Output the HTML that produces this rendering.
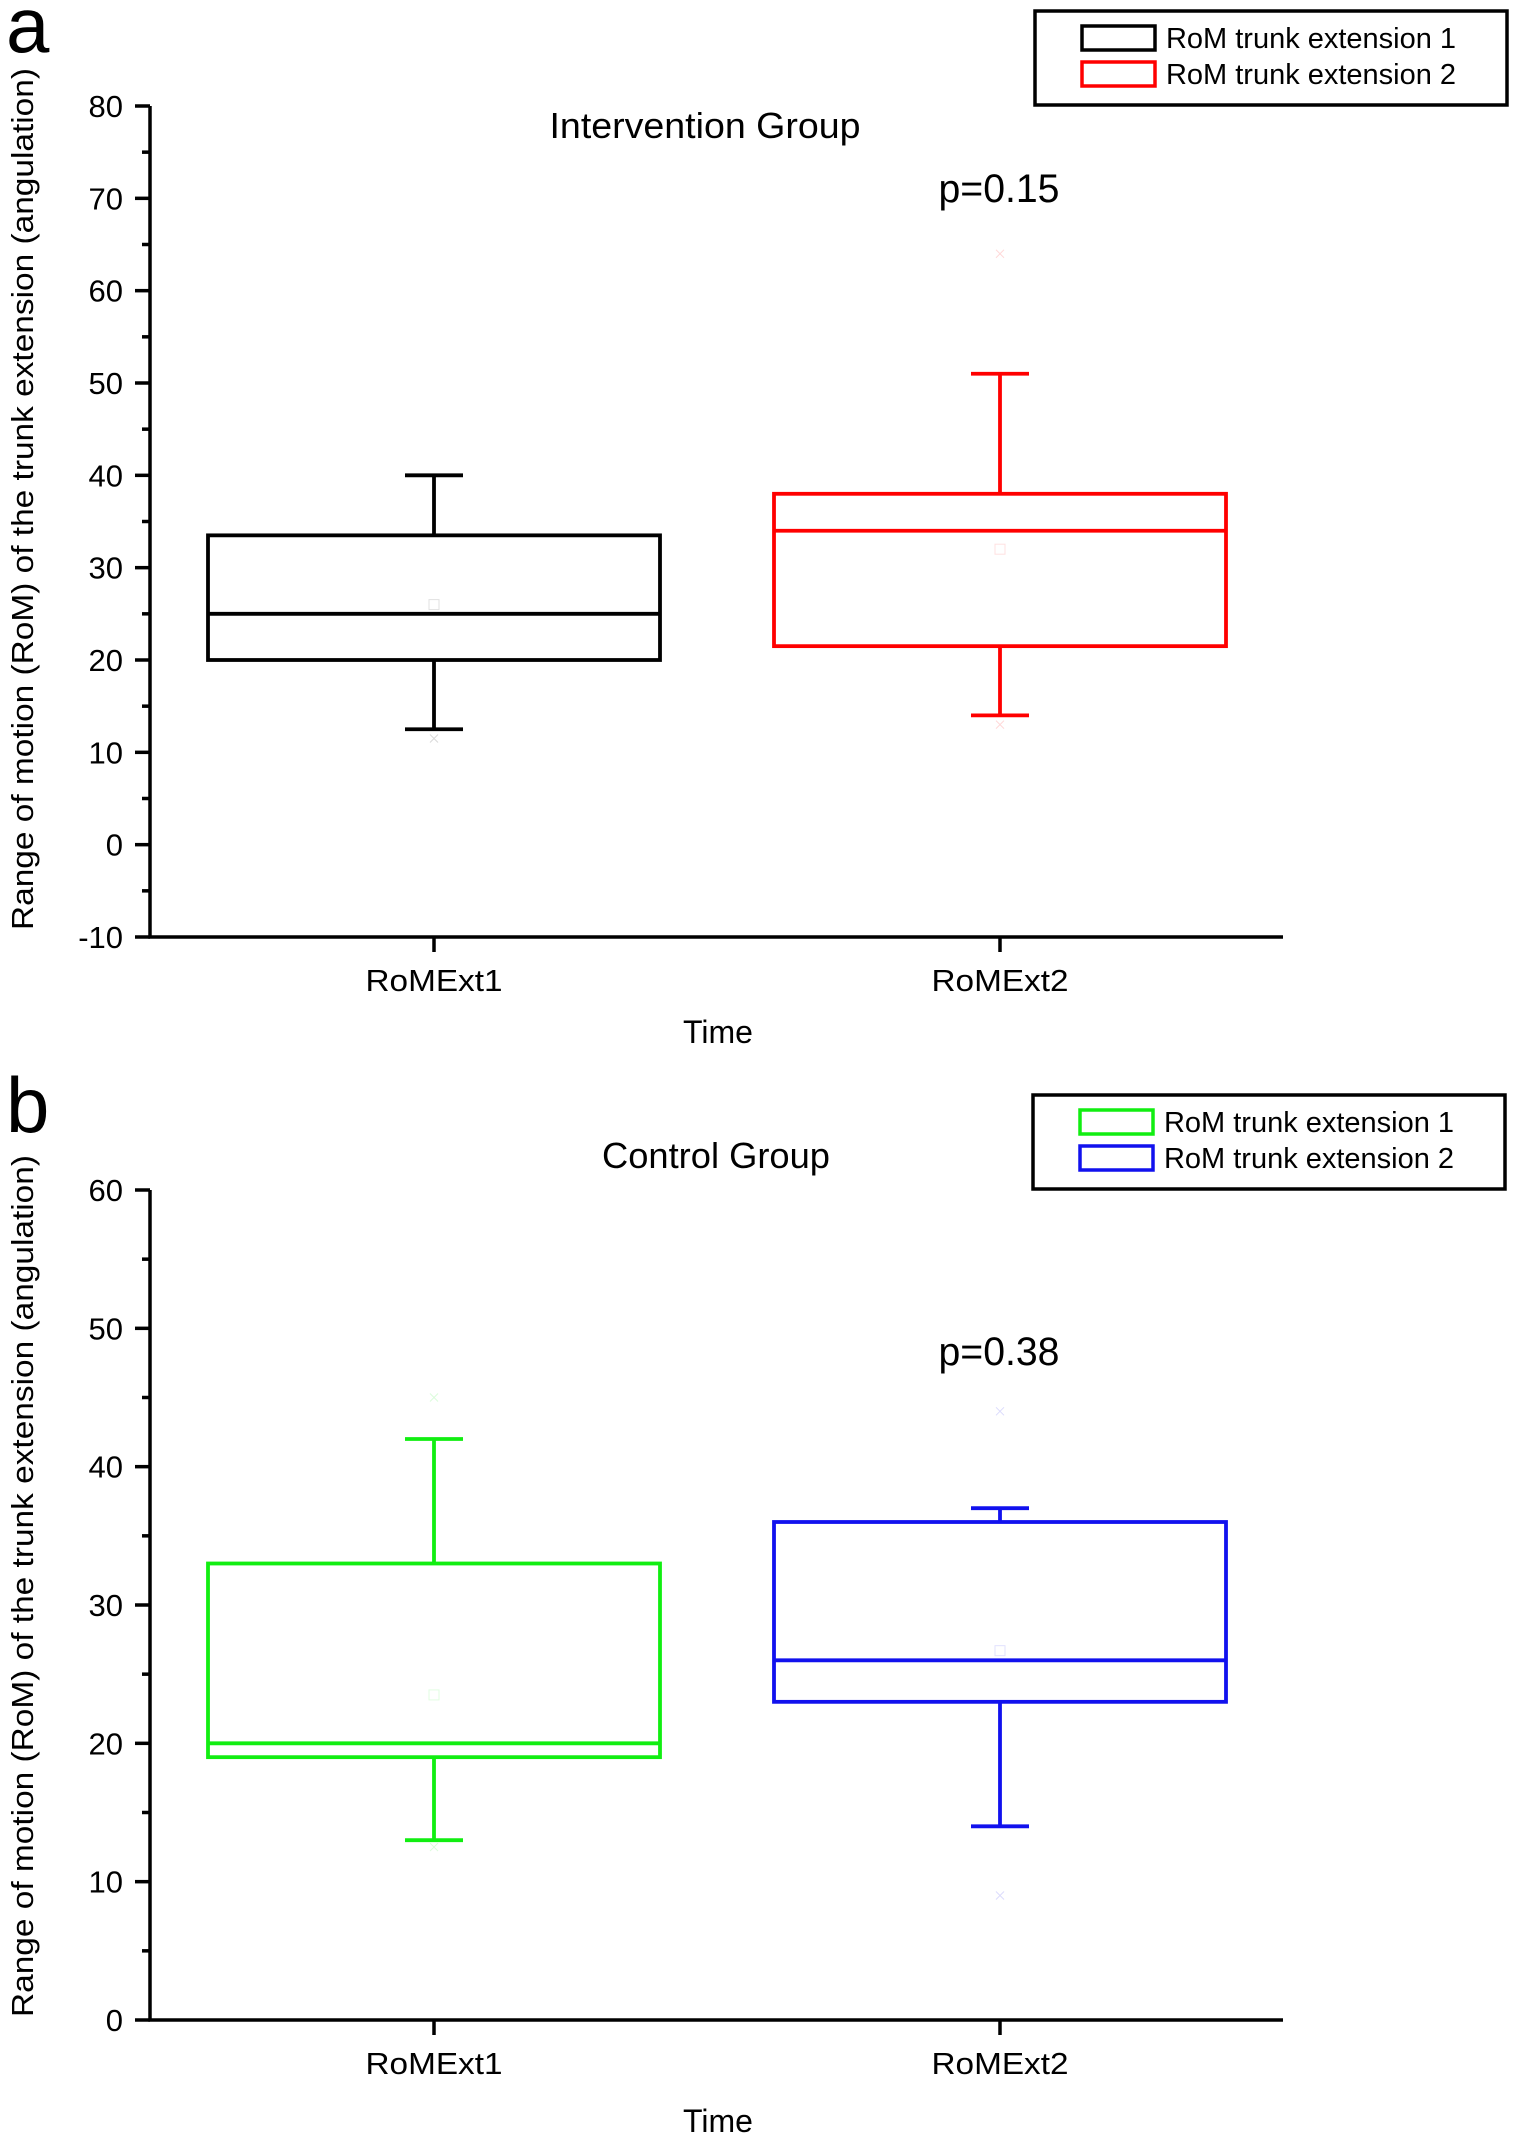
<!DOCTYPE html>
<html><head><meta charset="utf-8"><style>
html,body{margin:0;padding:0;background:#fff;}
svg{display:block;font-family:"Liberation Sans",Arial,sans-serif;}
</style></head><body>
<svg id="fig" width="1515" height="2141" viewBox="0 0 1515 2141" xmlns="http://www.w3.org/2000/svg"></svg>
<script>
// ---- Panel a data (Intervention Group) ----
const catsA = ["RoMExt1", "RoMExt2"];
const minA = [12.5, 14];
const q1A = [20, 21.5];
const medA = [25, 34];
const q3A = [33.5, 38];
const maxA = [40, 51];
const meanA = [26, 32];
const outHiA = [null, 64];
const outLoA = [11.5, 13];
const ticksA = [-10, 0, 10, 20, 30, 40, 50, 60, 70, 80];
// ---- Panel b data (Control Group) ----
const catsB = ["RoMExt1", "RoMExt2"];
const minB = [13, 14];
const q1B = [19, 23];
const medB = [20, 26];
const q3B = [33, 36];
const maxB = [42, 37];
const meanB = [23.5, 26.7];
const outHiB = [45, 44];
const outLoB = [12.5, 9];
const ticksB = [0, 10, 20, 30, 40, 50, 60];

const NS = "http://www.w3.org/2000/svg";
const svg = document.getElementById("fig");
function mk(tag, attrs, parent, text) {
  const e = document.createElementNS(NS, tag);
  for (const k in attrs) e.setAttribute(k, attrs[k]);
  if (text !== undefined) e.textContent = text;
  (parent || svg).appendChild(e);
  return e;
}

function panel(o) {
  const g = mk("g", {});
  
  
  const y = v => o.yBottom - (v - o.vmin) / (o.vmax - o.vmin) * (o.yBottom - o.yTop);
  const xs = [434, 1000];
  const L = mk("text", {x: 6, y: o.letterY, "font-size": 78, fill: "#000"}, g, o.letter);
  
  
  const ax = mk("path", {d: `M150 ${o.yTop} V${o.yBottom} H1283`, stroke: "#000", "stroke-width": 3.5, fill: "none"}, g);
  
  
  const step = o.ticks[1] - o.ticks[0];
  o.ticks.forEach((t, i) => {
    const ty = y(t);
    const tk = mk("line", {x1: 135, x2: 150, y1: ty, y2: ty, stroke: "#000", "stroke-width": 3.5}, g);
    
    
    const tl = mk("text", {x: 123, y: ty + 11, "font-size": 31, "text-anchor": "end", fill: "#000"}, g, String(t));
    
    
    if (i < o.ticks.length - 1) {
      const my = y(t + step / 2);
      const mt = mk("line", {x1: 142, x2: 150, y1: my, y2: my, stroke: "#000", "stroke-width": 3.5}, g);
      
      
    }
  });
  o.cats.forEach((c, i) => {
    const xt = mk("line", {x1: xs[i], x2: xs[i], y1: o.yBottom, y2: o.yBottom + 15, stroke: "#000", "stroke-width": 3.5}, g);
    
    
    const xl = mk("text", {x: xs[i], y: o.yBottom + 54, "font-size": 31, "text-anchor": "middle", fill: "#000", textLength: 137, lengthAdjust: "spacingAndGlyphs"}, g, c);
    
    
    const col = o.colors[i];
    const half = 226, cap = 29;
    const bg = mk("g", {stroke: col, "stroke-width": 3.8, fill: "none"}, g);
    
    
    mk("line", {x1: xs[i], x2: xs[i], y1: y(o.q3[i]), y2: y(o.max[i])}, bg);
    mk("line", {x1: xs[i] - cap, x2: xs[i] + cap, y1: y(o.max[i]), y2: y(o.max[i])}, bg);
    mk("line", {x1: xs[i], x2: xs[i], y1: y(o.q1[i]), y2: y(o.min[i])}, bg);
    mk("line", {x1: xs[i] - cap, x2: xs[i] + cap, y1: y(o.min[i]), y2: y(o.min[i])}, bg);
    mk("rect", {x: xs[i] - half, y: y(o.q3[i]), width: half * 2, height: y(o.q1[i]) - y(o.q3[i])}, bg);
    mk("line", {x1: xs[i] - half, x2: xs[i] + half, y1: y(o.med[i]), y2: y(o.med[i])}, bg);
    const mm = mk("rect", {x: xs[i] - 5, y: y(o.mean[i]) - 5, width: 10, height: 10, stroke: col, "stroke-width": 1, fill: "none", opacity: 0.12}, g);
    
    
    [o.outHi[i], o.outLo[i]].forEach(v => {
      if (v === null) return;
      const oy = y(v);
      const om = mk("path", {d: `M${xs[i]-4} ${oy-4}L${xs[i]+4} ${oy+4}M${xs[i]+4} ${oy-4}L${xs[i]-4} ${oy+4}`, stroke: col, "stroke-width": 1, opacity: 0.15}, g);
      
      
    });
  });
  const yt = mk("text", {x: 0, y: 0, "font-size": 31, "text-anchor": "middle", fill: "#000", textLength: 862, lengthAdjust: "spacingAndGlyphs", transform: `translate(33 ${o.yTitleC}) rotate(-90)`}, g, "Range of motion (RoM) of the trunk extension (angulation)");
  
  
  const xt = mk("text", {x: 718, y: o.timeY, "font-size": 32, "text-anchor": "middle", fill: "#000"}, g, "Time");
  
  
  const ti = mk("text", {x: o.titleX, y: o.titleY, "font-size": 36, "text-anchor": "middle", fill: "#000", textLength: o.titleLen, lengthAdjust: "spacingAndGlyphs"}, g, o.title);
  
  
  const pv = mk("text", {x: 999, y: o.pY, "font-size": 40, "text-anchor": "middle", fill: "#000", textLength: 121, lengthAdjust: "spacingAndGlyphs"}, g, o.p);
  
  
  const lg = mk("g", {}, g);
  
  
  mk("rect", {x: o.legX, y: o.legY, width: 472, height: 94, fill: "#fff", stroke: "#000", "stroke-width": 3.5}, lg);
  ["RoM trunk extension 1", "RoM trunk extension 2"].forEach((s, i) => {
    const ry = o.legY + 27 + i * 36;
    const sw = mk("rect", {x: o.legX + 47, y: ry - 12, width: 73, height: 24, fill: "none", stroke: o.colors[i], "stroke-width": 3.5}, lg);
    
    
    const lt = mk("text", {x: o.legX + 131, y: ry + 10, "font-size": 29, fill: "#000", textLength: 290, lengthAdjust: "spacingAndGlyphs"}, lg, s);
    
    
  });
}

panel({name: "panel-a-intervention", letter: "a", letterY: 52, yTop: 106, yBottom: 937, vmin: -10, vmax: 80,
  ticks: ticksA, cats: catsA, min: minA, q1: q1A, med: medA, q3: q3A, max: maxA, mean: meanA, outHi: outHiA, outLo: outLoA,
  colors: ["#000000", "#ff0000"], title: "Intervention Group", titleX: 705, titleY: 138, titleLen: 311, p: "p=0.15", pY: 202,
  timeY: 1043, legX: 1035, legY: 11, yTitleC: 499});
panel({name: "panel-b-control", letter: "b", letterY: 1132, yTop: 1190, yBottom: 2020, vmin: 0, vmax: 60,
  ticks: ticksB, cats: catsB, min: minB, q1: q1B, med: medB, q3: q3B, max: maxB, mean: meanB, outHi: outHiB, outLo: outLoB,
  colors: ["#11ee11", "#1111ee"], title: "Control Group", titleX: 716, titleY: 1168, titleLen: 228, p: "p=0.38", pY: 1365,
  timeY: 2132, legX: 1033, legY: 1095, yTitleC: 1586});
</script>
</body></html>
